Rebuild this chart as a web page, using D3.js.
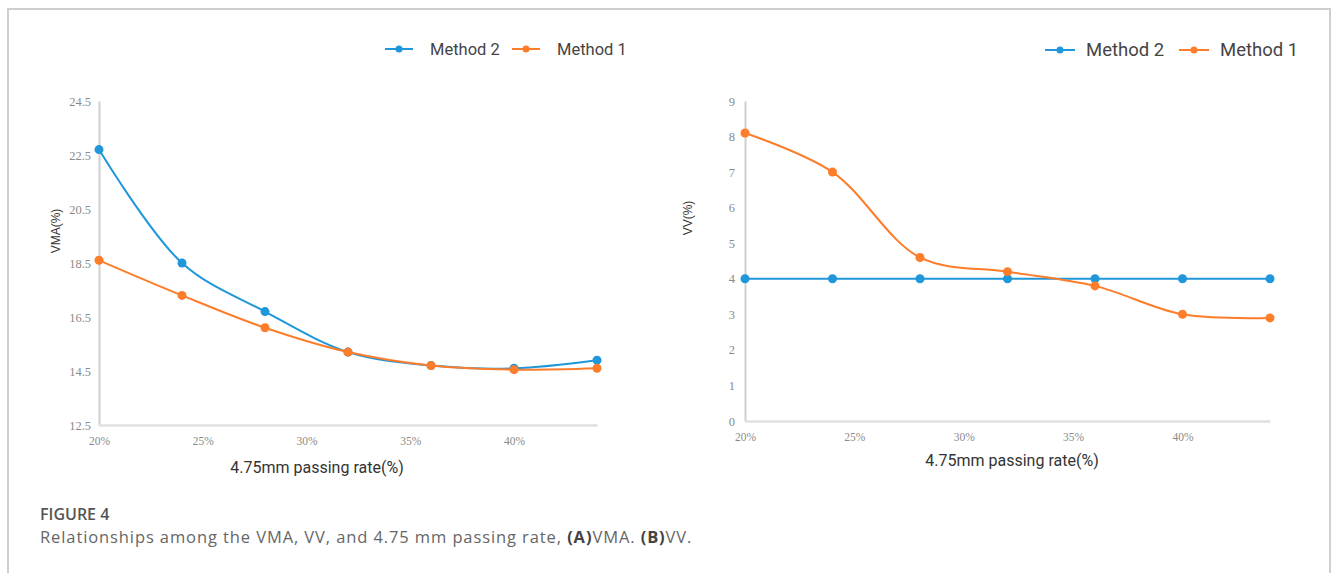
<!DOCTYPE html>
<html>
<head>
<meta charset="utf-8">
<script src="https://cdn.jsdelivr.net/npm/d3@7"></script>
<style>
  body { margin: 0; background: #fff; }
  svg { display: block; }
</style>
</head>
<body>
<div id="root"></div>
<script>
// passing rate (%) on the x axis
const passRate = [20, 24, 28, 32, 36, 40, 44];
const xTicks = [20, 25, 30, 35, 40];

// (A) VMA (%)
const vmaMethod2 = [22.7, 18.5, 16.7, 15.2, 14.7, 14.6, 14.9];
const vmaMethod1 = [18.6, 17.3, 16.1, 15.2, 14.7, 14.55, 14.6];
const vmaTicks = [12.5, 14.5, 16.5, 18.5, 20.5, 22.5, 24.5];

// (B) VV (%)
const vvMethod2 = [4, 4, 4, 4, 4, 4, 4];
const vvMethod1 = [8.1, 7.0, 4.6, 4.2, 3.8, 3.0, 2.9];
const vvTicks = [0, 1, 2, 3, 4, 5, 6, 7, 8, 9];

const seriesNames = ['Method 2', 'Method 1'];
const colors = { 'Method 2': '#1f97d9', 'Method 1': '#fd7d2b' };

const W = 1331, H = 573;
const svg = d3.select('#root').append('svg').attr('width', W).attr('height', H);

// figure frame
svg.append('path')
  .attr('d', `M8,${H} V9 H1330 V${H}`)
  .attr('fill', 'none').attr('stroke', '#cfcfcf').attr('stroke-width', 2);

function drawPanel(opt) {
  const x = d3.scaleLinear().domain([20, 44]).range([opt.x0, opt.x1]);
  const y = d3.scaleLinear().domain(opt.yDomain).range([opt.y1, opt.y0]);
  const g = svg.append('g');

  // y axis
  const ya = g.append('g')
    .attr('transform', `translate(${opt.x0},0)`)
    .call(d3.axisLeft(y).tickValues(opt.yTicks).tickSize(0).tickPadding(opt.yPad)
      .tickFormat(d => opt.yFmt(d)));
  ya.select('.domain').attr('stroke', '#cfcfcf').attr('stroke-width', 2);
  ya.selectAll('text')
    .attr('font-family', '"Liberation Serif", serif').attr('font-size', 12.5)
    .attr('fill', '#8a8a8a');

  // x axis
  const xa = g.append('g')
    .attr('transform', `translate(0,${opt.y1})`)
    .call(d3.axisBottom(x).tickValues(xTicks).tickSize(0).tickPadding(12)
      .tickFormat(d => d + '%'));
  xa.select('.domain').attr('stroke', '#e0e0e0').attr('stroke-width', 2.5);
  xa.selectAll('text')
    .attr('font-family', '"Liberation Serif", serif').attr('font-size', 11.5)
    .attr('fill', '#8a8a8a');

  // axis titles
  g.append('text')
    .attr('x', opt.xTitleX).attr('y', opt.xTitleY)
    .attr('text-anchor', 'middle')
    .attr('font-family', 'Roboto, "Liberation Sans", sans-serif')
    .attr('font-size', 16).attr('fill', '#333')
    .text('4.75mm passing rate(%)');
  g.append('text')
    .attr('transform', `translate(${opt.yTitleX},${opt.yTitleY}) rotate(-90)`)
    .attr('text-anchor', 'middle')
    .attr('font-family', '"Liberation Sans", sans-serif')
    .attr('font-size', 12).attr('fill', '#333')
    .text(opt.yTitle);

  // lines and markers
  const line = d3.line()
    .x((d, i) => x(passRate[i]))
    .y(d => y(d))
    .curve(d3.curveCatmullRom.alpha(0.5));

  opt.series.forEach(s => {
    g.append('path')
      .datum(s.values)
      .attr('d', line)
      .attr('fill', 'none')
      .attr('stroke', colors[s.name])
      .attr('stroke-width', 2);
    g.selectAll(null)
      .data(s.values)
      .enter()
      .append('circle')
      .attr('cx', (d, i) => x(passRate[i]))
      .attr('cy', d => y(d))
      .attr('r', 4.5)
      .attr('fill', colors[s.name]);
  });

  // legend
  const lg = g.append('g').attr('transform', `translate(${opt.legX},${opt.legY})`);
  let off = 0;
  seriesNames.forEach(name => {
    const item = lg.append('g').attr('transform', `translate(${off},0)`);
    item.append('line')
      .attr('x1', 0).attr('x2', opt.legLine)
      .attr('stroke', colors[name]).attr('stroke-width', 2);
    item.append('circle')
      .attr('cx', opt.legLine / 2).attr('r', 3.5).attr('fill', colors[name]);
    item.append('text')
      .attr('x', opt.legLine + opt.legGap).attr('dy', '0.35em')
      .attr('font-family', 'Roboto, "Liberation Sans", sans-serif')
      .attr('font-size', opt.legFont).attr('fill', '#444')
      .text(name);
    off += opt.legStep;
  });
}

drawPanel({
  x0: 99, x1: 597, y0: 101, y1: 425,
  yDomain: [12.5, 24.5], yTicks: vmaTicks, yPad: 8,
  yFmt: d => d.toFixed(1),
  yTitle: 'VMA(%)', yTitleX: 60, yTitleY: 231,
  xTitleX: 317, xTitleY: 473,
  series: [
    { name: 'Method 2', values: vmaMethod2 },
    { name: 'Method 1', values: vmaMethod1 }
  ],
  legX: 385, legY: 49, legLine: 28, legGap: 17, legFont: 16.5, legStep: 127
});

drawPanel({
  x0: 745, x1: 1270, y0: 101, y1: 421,
  yDomain: [0, 9], yTicks: vvTicks, yPad: 10,
  yFmt: d => d,
  yTitle: 'VV(%)', yTitleX: 692, yTitleY: 218,
  xTitleX: 1012, xTitleY: 466,
  series: [
    { name: 'Method 2', values: vvMethod2 },
    { name: 'Method 1', values: vvMethod1 }
  ],
  legX: 1045, legY: 50, legLine: 30, legGap: 11, legFont: 18.5, legStep: 134
});

// caption
svg.append('text')
  .attr('x', 40).attr('y', 520)
  .attr('font-family', '"Open Sans", sans-serif')
  .attr('font-size', 16).attr('font-weight', 600).attr('fill', '#555')
  .text('FIGURE 4');

const cap = svg.append('text')
  .attr('x', 40).attr('y', 543)
  .attr('font-family', '"Open Sans", sans-serif')
  .attr('font-size', 16.5).attr('letter-spacing', 0.9).attr('fill', '#666');
cap.append('tspan').text('Relationships among the VMA, VV, and 4.75 mm passing rate, ');
cap.append('tspan').attr('font-weight', 700).attr('fill', '#444').text('(A)');
cap.append('tspan').text('VMA. ');
cap.append('tspan').attr('font-weight', 700).attr('fill', '#444').text('(B)');
cap.append('tspan').text('VV.');
</script>
</body>
</html>
